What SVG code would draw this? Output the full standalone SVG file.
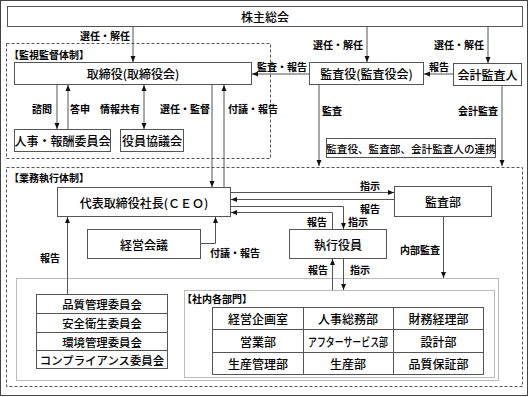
<svg xmlns="http://www.w3.org/2000/svg" width="529" height="397" viewBox="0 0 529 397">
<style>
text{font-family:"Noto Sans CJK JP","Noto Sans CJK SC",sans-serif;fill:#000;dominant-baseline:central}
.n{font-size:12px;text-anchor:middle;font-weight:500}
.c{font-size:11.4px;text-anchor:middle;font-weight:500}
.l{font-size:10px;text-anchor:middle;font-weight:bold}
.g{font-size:10px;font-weight:bold}
.box{fill:#fff;stroke:#555;stroke-width:1}
.dash{fill:none;stroke:#555;stroke-width:1;stroke-dasharray:3 2}
.dot{fill:none;stroke:#777;stroke-width:1;stroke-dasharray:1 1}
.e{fill:none;stroke:#555;stroke-width:1}
.a{marker-end:url(#ah)}
.s{marker-start:url(#ahs)}
</style>
<defs>
<marker id="ah" viewBox="0 0 6 6" refX="6" refY="3" markerWidth="6" markerHeight="6" markerUnits="userSpaceOnUse" orient="auto"><path d="M0,0.5 L6,3 L0,5.5 Z" fill="#111"/></marker>
<marker id="ahs" viewBox="0 0 6 6" refX="0" refY="3" markerWidth="6" markerHeight="6" markerUnits="userSpaceOnUse" orient="auto"><path d="M6,0.5 L0,3 L6,5.5 Z" fill="#111"/></marker>
</defs>
<rect x="0.5" y="0.5" width="527" height="395" fill="#fff" stroke="#444"/>
<g id="groups">
<rect class="dash" x="6.5" y="43.5" width="264" height="115"/>
<text class="g" x="9" y="54">【監視監督体制】</text>
<rect class="dash" x="6.5" y="167.5" width="516" height="219"/>
<text class="g" x="9" y="177">【業務執行体制】</text>
<rect class="dot" x="16.5" y="278.5" width="482" height="102"/>
<rect class="dot" x="184.5" y="290.5" width="310" height="87"/>
<text class="g" x="182" y="298">【社内各部門】</text>
</g>
<g id="connectors">
<line class="e a" x1="133" y1="27" x2="133" y2="62"/>
<line class="e a" x1="367" y1="27" x2="367" y2="62"/>
<line class="e a" x1="488" y1="27" x2="488" y2="63"/>
<line class="e a" x1="453" y1="74" x2="424" y2="74"/>
<line class="e a" x1="309" y1="74" x2="252" y2="74"/>
<line class="e a" x1="57" y1="85" x2="57" y2="129"/>
<line class="e a" x1="68" y1="129" x2="68" y2="85"/>
<line class="e a s" x1="144" y1="85" x2="144" y2="129"/>
<line class="e a" x1="212" y1="85" x2="212" y2="187"/>
<line class="e a" x1="224" y1="187" x2="224" y2="85"/>
<line class="e a" x1="319" y1="85" x2="319" y2="166"/>
<line class="e a" x1="502" y1="86" x2="502" y2="166"/>
<line class="e a" x1="231" y1="192.5" x2="394" y2="192.5"/>
<line class="e a" x1="394" y1="199.5" x2="231" y2="199.5"/>
<path class="e a" d="M231,206.5 H343.5 V229"/>
<path class="e a" d="M332.5,229 V212.5 H231"/>
<path class="e a" d="M201,243.5 H215.5 V217"/>
<path class="e a" d="M67.5,294 V217"/>
<line class="e a" x1="443.5" y1="217" x2="443.5" y2="278"/>
<line class="e a" x1="343.5" y1="259" x2="343.5" y2="290"/>
<line class="e a" x1="332.5" y1="290" x2="332.5" y2="259"/>
<text class="l" x="105" y="35">選任・解任</text>
<text class="l" x="338" y="44">選任・解任</text>
<text class="l" x="459" y="44">選任・解任</text>
<text class="l" x="282" y="66">監査・報告</text>
<text class="l" x="439" y="66">報告</text>
<text class="l" x="42" y="108">諮問</text>
<text class="l" x="80" y="108">答申</text>
<text class="l" x="120" y="108">情報共有</text>
<text class="l" x="185" y="108">選任・監督</text>
<text class="l" x="253" y="108">付議・報告</text>
<text class="l" x="332" y="110">監査</text>
<text class="l" x="478" y="110">会計監査</text>
<text class="l" x="370" y="185">指示</text>
<text class="l" x="370" y="208">報告</text>
<text class="l" x="317" y="221">報告</text>
<text class="l" x="358" y="221">指示</text>
<text class="l" x="420" y="249">内部監査</text>
<text class="l" x="318" y="269">報告</text>
<text class="l" x="360" y="269">指示</text>
<text class="l" x="235" y="252">付議・報告</text>
<text class="l" x="50" y="257">報告</text>
</g>
<g id="shareholders"><rect class="box" x="7.5" y="6.5" width="515" height="20"/><text class="n" x="265" y="16.5">株主総会</text></g>
<g id="board"><rect class="box" x="14.5" y="62.5" width="237" height="22"/><text class="n" x="133" y="73.5">取締役(取締役会)</text></g>
<g id="auditors"><rect class="box" x="309.5" y="62.5" width="114" height="22"/><text class="n" x="366.5" y="73.5">監査役(監査役会)</text></g>
<g id="accounting-auditor"><rect class="box" x="453.5" y="63.5" width="68" height="22"/><text class="n" x="487.5" y="74.5">会計監査人</text></g>
<g id="hr-committee"><rect class="box" x="14.5" y="129.5" width="96" height="22"/><text class="n" x="62.5" y="140.5">人事・報酬委員会</text></g>
<g id="officers-council"><rect class="box" x="120.5" y="129.5" width="63" height="22"/><text class="n" x="152" y="140.5">役員協議会</text></g>
<g id="cooperation"><rect class="box" x="326.5" y="138.5" width="169" height="19"/><text class="n" style="font-size:10.6px" x="411" y="148">監査役、監査部、会計監査人の連携</text></g>
<g id="ceo"><rect class="box" x="57.5" y="187.5" width="173" height="29"/><text class="n" x="144" y="202">代表取締役社長(ＣＥＯ)</text></g>
<g id="audit-dept"><rect class="box" x="394.5" y="186.5" width="97" height="30"/><text class="n" x="443" y="201.5">監査部</text></g>
<g id="management-meeting"><rect class="box" x="87.5" y="229.5" width="113" height="29"/><text class="n" x="144" y="244">経営会議</text></g>
<g id="executive-officers"><rect class="box" x="289.5" y="229.5" width="97" height="29"/><text class="n" x="338" y="244">執行役員</text></g>
<g id="committees">
<rect class="box" x="36.5" y="294.5" width="131" height="74"/>
<path class="e" d="M36.5,313.5 H167.5 M36.5,332.5 H167.5 M36.5,350.5 H167.5"/>
<text class="c" x="102" y="304">品質管理委員会</text>
<text class="c" x="102" y="323">安全衛生委員会</text>
<text class="c" x="102" y="341.5">環境管理委員会</text>
<text class="c" x="102" y="360">コンプライアンス委員会</text>
</g>
<g id="departments">
<rect class="box" x="212.5" y="307.5" width="271" height="67"/>
<path class="e" d="M303.5,307.5 V374.5 M393.5,307.5 V374.5 M212.5,329.5 H483.5 M212.5,352.5 H483.5"/>
<text class="n" x="258" y="318.5">経営企画室</text>
<text class="n" x="348" y="318.5">人事総務部</text>
<text class="n" x="438.5" y="318.5">財務経理部</text>
<text class="n" x="258" y="341">営業部</text>
<text class="n" x="348" y="341" textLength="80" lengthAdjust="spacingAndGlyphs">アフターサービス部</text>
<text class="n" x="438.5" y="341">設計部</text>
<text class="n" x="258" y="363.5">生産管理部</text>
<text class="n" x="348" y="363.5">生産部</text>
<text class="n" x="438.5" y="363.5">品質保証部</text>
</g>
</svg>
